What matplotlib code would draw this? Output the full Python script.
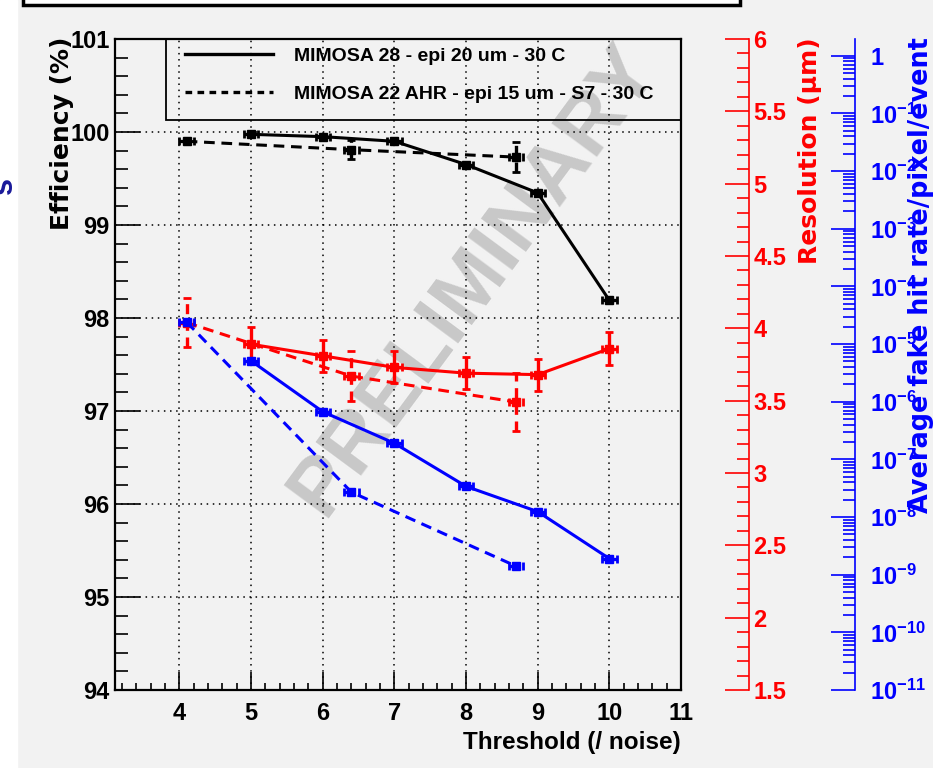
import numpy as np
import matplotlib
matplotlib.use('Agg')
import matplotlib.pyplot as plt
from matplotlib.ticker import MultipleLocator, LogLocator, FuncFormatter, NullFormatter
from matplotlib.patches import Rectangle
from matplotlib.lines import Line2D

plt.rcParams['font.family'] = ['Liberation Sans', 'DejaVu Sans']
plt.rcParams['font.weight'] = 'bold'
plt.rcParams['mathtext.fontset'] = 'custom'
plt.rcParams['mathtext.rm'] = 'Liberation Sans:bold'
plt.rcParams['mathtext.bf'] = 'Liberation Sans:bold'
plt.rcParams['mathtext.it'] = 'Liberation Sans:bold'

# ── Data ──────────────────────────────────────────────────────────
x_m28 = [5, 6, 7, 8, 9, 10]
eff_m28 = [99.975, 99.95, 99.90, 99.65, 99.345, 98.19]
eff_m28_err = [0.01, 0.01, 0.01, 0.02, 0.02, 0.02]
res_m28 = [3.89, 3.81, 3.73, 3.69, 3.68, 3.86]
res_m28_err = [0.12, 0.11, 0.11, 0.11, 0.11, 0.115]
fake_m28 = [5.1e-6, 6.7e-7, 1.9e-7, 3.4e-8, 1.24e-8, 1.9e-9]

x_m22 = [4.1, 6.4, 8.7]
eff_m22 = [99.90, 99.81, 99.73]
eff_m22_err = [0.02, 0.10, 0.16]
res_m22 = [4.04, 3.67, 3.49]
res_m22_err = [0.17, 0.17, 0.20]
fake_m22 = [2.4e-5, 2.7e-8, 1.4e-9]

x_err = 0.1
labels = ['MIMOSA 28 - epi 20 um - 30 C',
          'MIMOSA 22 AHR - epi 15 um - S7 - 30 C']

# ── Layout (pixels) ───────────────────────────────────────────────
W, H = 933, 768
L, R, T, B = 115, 681, 39, 690
BG = '#f2f2f2'
RED = '#ff0000'
BLUE = '#0000ff'

fig = plt.figure(figsize=(W / 100, H / 100), dpi=100, facecolor=BG)
ax = fig.add_axes([L / W, 1 - B / H, (R - L) / W, (B - T) / H])
ax.set_facecolor(BG)

# main axis: efficiency
ax.set_xlim(3.1, 11)
ax.set_ylim(94, 101)
ax.xaxis.set_major_locator(MultipleLocator(1))
ax.xaxis.set_minor_locator(MultipleLocator(0.2))
ax.yaxis.set_major_locator(MultipleLocator(1))
ax.yaxis.set_minor_locator(MultipleLocator(0.2))
ax.tick_params(axis='both', which='both', direction='in', top=False,
               right=False, labelsize=17, width=1.2)
ax.tick_params(axis='y', which='major', length=18, pad=4)
ax.tick_params(axis='y', which='minor', length=9)
ax.tick_params(axis='x', which='major', length=13, pad=9)
ax.tick_params(axis='x', which='minor', length=5)
for sp in ax.spines.values():
    sp.set_linewidth(1.6)
ax.grid(True, which='major', color='black', ls=(0, (1, 3)), lw=1.1)

def ebar(a, x, y, yerr, color, dashed):
    ls = (0, (3.5, 2.2)) if dashed else '-'
    cont = a.errorbar(x, y, yerr=yerr, xerr=x_err, fmt='s', ms=6,
                      color=color, ecolor=color, elinewidth=2.4,
                      capsize=3, capthick=2, zorder=3)
    if dashed:
        for lc in cont[2]:
            lc.set_linestyle((0, (3, 2)))
    a.plot(x, y, color=color, lw=2.2, ls=ls, zorder=2.5)

ebar(ax, x_m28, eff_m28, eff_m28_err, 'black', False)
ebar(ax, x_m22, eff_m22, eff_m22_err, 'black', True)

# red axis: resolution
ax_r = ax.twinx()
ax_r.set_ylim(1.5, 6)
ax_r.spines['right'].set_position(('axes', (749 - L) / (R - L)))
for s in ['left', 'top', 'bottom']:
    ax_r.spines[s].set_visible(False)
ax_r.spines['right'].set_color(RED)
ax_r.spines['right'].set_linewidth(1.2)
ax_r.yaxis.set_major_locator(MultipleLocator(0.5))
ax_r.yaxis.set_minor_locator(MultipleLocator(0.1))
ax_r.yaxis.set_major_formatter(FuncFormatter(lambda v, p: f'{v:g}'))
ax_r.tick_params(axis='y', which='both', direction='in', colors=RED,
                 labelcolor=RED, labelsize=17, width=1.2, pad=3)
ax_r.tick_params(axis='y', which='major', length=17)
ax_r.tick_params(axis='y', which='minor', length=8.5)
ebar(ax_r, x_m28, res_m28, res_m28_err, RED, False)
ebar(ax_r, x_m22, res_m22, res_m22_err, RED, True)

# blue axis: fake hit rate (log)
ax_b = ax.twinx()
ax_b.set_yscale('log')
ax_b.set_ylim(1e-11, 1.95)
ax_b.spines['right'].set_position(('axes', (855 - L) / (R - L)))
for s in ['left', 'top', 'bottom']:
    ax_b.spines[s].set_visible(False)
ax_b.spines['right'].set_color(BLUE)
ax_b.spines['right'].set_linewidth(1.2)
ax_b.yaxis.set_major_locator(LogLocator(base=10, numticks=30))
ax_b.yaxis.set_minor_locator(LogLocator(base=10, subs=np.arange(2, 10), numticks=30))
ax_b.yaxis.set_minor_formatter(NullFormatter())

def log_fmt(v, pos):
    e = int(round(np.log10(v)))
    return '1' if e == 0 else rf'$10^{{{e}}}$'

ax_b.yaxis.set_major_formatter(FuncFormatter(log_fmt))
ax_b.tick_params(axis='y', which='both', direction='in', colors=BLUE,
                 labelcolor=BLUE, labelsize=17, width=1.2, pad=11)
ax_b.tick_params(axis='y', which='major', length=17)
ax_b.tick_params(axis='y', which='minor', length=8.5)
ebar(ax_b, x_m28, fake_m28, None, BLUE, False)
ebar(ax_b, x_m22, fake_m22, None, BLUE, True)

# ── Titles ────────────────────────────────────────────────────────
fig.text(R / W, 1 - 742 / H, 'Threshold (/ noise)', ha='right', va='center',
         fontsize=17.5, fontweight='bold')
fig.text(62 / W, 1 - 37 / H, 'Efficiency (%)', rotation=90, ha='center',
         va='top', fontsize=18, fontweight='bold', family='DejaVu Sans')
fig.text(810 / W, 1 - 37 / H, 'Resolution (μm)', rotation=90, ha='center',
         va='top', fontsize=18, fontweight='bold', family='DejaVu Sans',
         color=RED)
fig.text(921 / W, 1 - 37 / H, 'Average fake hit rate/pixel/event',
         rotation=90, ha='center', va='top', fontsize=18.4,
         fontweight='bold', family='DejaVu Sans', color=BLUE)

# watermark
ax.text(474 / W, 1 - 280 / H, 'PRELIMINARY', transform=fig.transFigure,
        rotation=53.5, ha='center', va='center', fontsize=59,
        fontweight='bold', color='#c8c8c8', zorder=1, clip_on=False)

# legend
handles = [Line2D([], [], color='black', lw=2.4, ls='-'),
           Line2D([], [], color='black', lw=2.4, ls=(0, (2, 1.6)))]
ax_b.legend(handles, labels, loc='upper left', frameon=False,
            bbox_to_anchor=(185 / W, 1 - 47 / H),
            bbox_transform=fig.transFigure, borderpad=0, borderaxespad=0,
            handlelength=4.5, handletextpad=1.08, labelspacing=1.05,
            prop={'size': 14, 'weight': 'bold'})
fig.add_artist(Rectangle((166 / W, 1 - 120 / H), (R - 166) / W, (120 - T) / H,
                         transform=fig.transFigure, fill=False,
                         ec='black', lw=1.3))

# page decorations (cut-off neighbour pad)
fig.add_artist(Rectangle((0, 0), 17 / W, 1, transform=fig.transFigure,
                         color='white', zorder=-1))
fig.add_artist(Rectangle((23 / W, 1 - 5 / H), (740 - 23) / W, 20 / H,
                         transform=fig.transFigure, fc='white',
                         ec='black', lw=2.5))
fig.text(4 / W, 1 - 185 / H, 's', rotation=90, ha='center', va='center',
         fontsize=22, fontweight='bold', color='#1a1a9a')

fig.savefig('out.png', dpi=100, facecolor=BG)
